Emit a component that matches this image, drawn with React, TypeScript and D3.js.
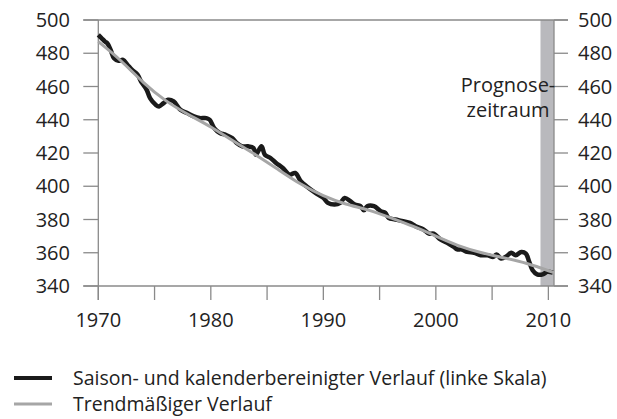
import React from "react";
import * as d3 from "d3";

// ---- data ----
const yTicks = [340, 360, 380, 400, 420, 440, 460, 480, 500];
const xTicks = [1970, 1975, 1980, 1985, 1990, 1995, 2000, 2005, 2010];
const xLabels = [1970, 1980, 1990, 2000, 2010];

const actualYears = [
  1970.0, 1970.3, 1970.6, 1970.8, 1971.1, 1971.4, 1971.8, 1972.2, 1972.6, 1973.0,
  1973.5, 1973.8, 1974.3, 1974.6, 1975.1, 1975.4, 1975.8, 1976.2, 1976.7, 1977.3,
  1977.9, 1978.5, 1979.0, 1979.6, 1979.9, 1980.3, 1980.8, 1981.3, 1981.9, 1982.3,
  1982.8, 1983.3, 1983.8, 1984.0, 1984.5, 1984.8, 1985.3, 1985.8, 1986.4, 1987.0,
  1987.5, 1988.0, 1988.5, 1989.3, 1990.0, 1990.4, 1991.0, 1991.5, 1991.9, 1992.4,
  1992.8, 1993.3, 1993.6, 1993.9, 1994.5, 1995.1, 1995.5, 1995.8, 1996.4, 1997.1,
  1997.7, 1998.2, 1998.9, 1999.4, 1999.8, 2000.4, 2001.0, 2001.6, 2001.9, 2002.3,
  2002.8, 2003.4, 2004.0, 2004.6, 2005.1, 2005.4, 2005.8, 2006.3, 2006.7, 2007.1,
  2007.6, 2008.0, 2008.3, 2008.6, 2009.0, 2009.5, 2009.9, 2010.4,
];
const actualValues = [
  491, 489, 487, 486, 482, 477, 475.5, 476, 473, 470,
  467, 463, 458, 453, 449, 448, 450, 452, 451, 446,
  444, 442, 441, 441, 440, 435, 432, 431, 429, 426,
  424, 424, 423, 419, 424, 419, 417, 414, 411, 407,
  408, 403, 400, 396, 393, 390, 389, 390, 393, 391,
  389, 388, 385.5, 388, 388, 385, 384, 381, 380, 379,
  378, 376, 374, 371.5, 371.5, 368, 366, 363.5, 362, 362,
  360.5, 360, 358.5, 358.5, 357.5, 359, 356.5, 358, 360, 358.5,
  360.5, 359.5, 354.5, 349.5, 347, 347, 348.5, 348,
];

const trendYears = [
  1970, 1972, 1974, 1976, 1978, 1980, 1982, 1984, 1986, 1988, 1990,
  1992, 1994, 1996, 1998, 2000, 2002, 2004, 2006, 2008, 2010.5,
];
const trendValues = [
  487, 476, 462, 451, 443, 436, 427, 419, 410, 401, 394,
  389, 386, 381, 376, 370, 364, 360, 357, 354, 348,
];

const forecastStart = 2009.3;
const forecastEnd = 2010.5;

const legendItems = [
  { label: "Saison- und kalenderbereinigter Verlauf (linke Skala)", color: "#1a1a1a", width: 4 },
  { label: "Trendmäßiger Verlauf", color: "#a6a6a6", width: 3 },
];

export default function App() {
  const W = 617;
  const H = 419;
  const left = 98.3;
  const right = 554;
  const top = 20;
  const bottom = 286;
  const font = "'Open Sans', sans-serif";

  const x = d3.scaleLinear().domain([1970, forecastEnd]).range([left, right]);
  const y = d3.scaleLinear().domain([340, 500]).range([bottom, top]);

  const actualLine = d3
    .line<number>()
    .x((_, i) => x(actualYears[i]))
    .y((d) => y(d))
    .curve(d3.curveCatmullRom.alpha(0.5));
  const trendLine = d3
    .line<number>()
    .x((_, i) => x(trendYears[i]))
    .y((d) => y(d))
    .curve(d3.curveBasis);

  const axisColor = "#8a8a8a";
  const textColor = "#222";

  return (
    <svg
      width={W}
      height={H}
      style={{ position: "absolute", left: 0, top: 0, background: "#fff" }}
      fontFamily={font}
    >
      <rect x={0} y={0} width={W} height={H} fill="#fff" />
      {/* forecast band */}
      <rect
        x={x(forecastStart)}
        y={top}
        width={x(forecastEnd) - x(forecastStart)}
        height={bottom - top}
        fill="#b9b9bd"
      />
      {/* frame lines */}
      <line x1={left - 15} x2={right + 14} y1={top} y2={top} stroke={axisColor} strokeWidth={1.3} />
      <line x1={left - 15} x2={right + 14} y1={bottom} y2={bottom} stroke={axisColor} strokeWidth={1.3} />
      <line x1={left} x2={left} y1={top} y2={bottom + 14} stroke={axisColor} strokeWidth={1.3} />
      <line x1={right} x2={right} y1={top} y2={bottom} stroke={axisColor} strokeWidth={1.3} />
      {/* y ticks */}
      {yTicks.map((t) => (
        <g key={"y" + t}>
          <line x1={left - 15} x2={left} y1={y(t)} y2={y(t)} stroke={axisColor} strokeWidth={1.3} />
          <line x1={right} x2={right + 14} y1={y(t)} y2={y(t)} stroke={axisColor} strokeWidth={1.3} />
          <text x={70} y={y(t) + 7} textAnchor="end" fontSize={20} fill={textColor}>
            {t}
          </text>
          <text x={578} y={y(t) + 7} textAnchor="start" fontSize={20} fill={textColor}>
            {t}
          </text>
        </g>
      ))}
      {/* x ticks */}
      {xTicks.map((t) => (
        <line key={"x" + t} x1={x(t)} x2={x(t)} y1={bottom} y2={bottom + 14} stroke={axisColor} strokeWidth={1.3} />
      ))}
      {xLabels.map((t) => (
        <text key={"xl" + t} x={x(t)} y={327} textAnchor="middle" fontSize={20} fill={textColor}>
          {t}
        </text>
      ))}
      {/* series */}
      <path d={actualLine(actualValues) || ""} fill="none" stroke="#1a1a1a" strokeWidth={4.5} strokeLinejoin="round" />
      <path d={trendLine(trendValues) || ""} fill="none" stroke="#a6a6a6" strokeWidth={3} />
      {/* forecast label */}
      <text x={508} y={91.5} textAnchor="middle" fontSize={20} fill={textColor}>
        Prognose-
      </text>
      <text x={508} y={116.5} textAnchor="middle" fontSize={20} fill={textColor}>
        zeitraum
      </text>
      {/* legend */}
      {legendItems.map((it, i) => (
        <g key={it.label}>
          <line x1={14} x2={52} y1={378 + i * 26} y2={378 + i * 26} stroke={it.color} strokeWidth={it.width} />
          <text x={73} y={385 + i * 26} fontSize={19.5} fill={textColor}>
            {it.label}
          </text>
        </g>
      ))}
    </svg>
  );
}
